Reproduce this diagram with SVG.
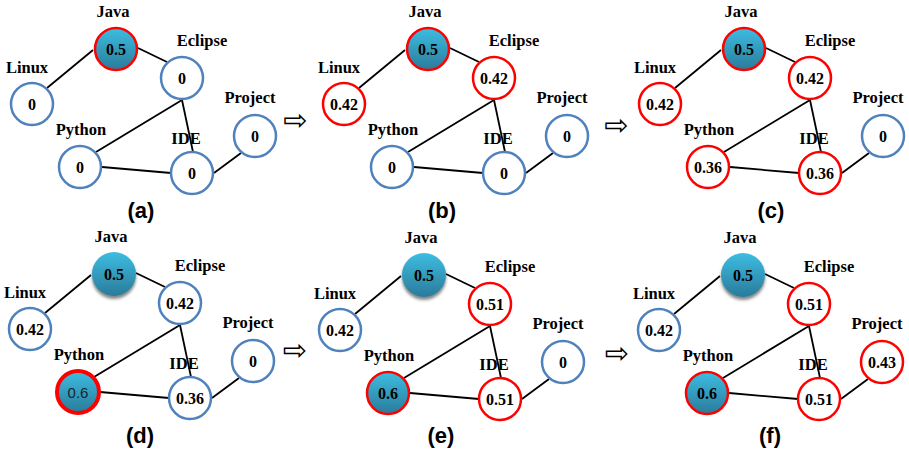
<svg xmlns="http://www.w3.org/2000/svg" width="909" height="450" viewBox="0 0 909 450">
<defs>
<linearGradient id="teal" x1="0" y1="0" x2="0" y2="1">
<stop offset="0" stop-color="#3dbde2"/>
<stop offset="1" stop-color="#2a7b9a"/>
</linearGradient>
<filter id="shadow" x="-40%" y="-40%" width="180%" height="190%">
<feDropShadow dx="0" dy="3" stdDeviation="1.5" flood-color="#333" flood-opacity="0.6"/>
</filter>
<g id="edges" stroke="#000" stroke-width="1.8" fill="none">
<line x1="47" y1="88" x2="93" y2="50"/>
<line x1="138" y1="48" x2="167" y2="62"/>
<line x1="182" y1="100" x2="96" y2="152"/>
<line x1="182" y1="100" x2="193" y2="152"/>
<line x1="102" y1="167" x2="171" y2="173"/>
<line x1="214" y1="173" x2="241" y2="153"/>
</g>
</defs>
<style>
.b{fill:#fff;stroke:#4f81bd;stroke-width:2.5}
.r{fill:#fff;stroke:#ff0000;stroke-width:2.5}
.t{fill:url(#teal);stroke:#ff0000;stroke-width:2.5}
.ts{fill:url(#teal);filter:url(#shadow)}
.tt{fill:url(#teal);stroke:#ff0000;stroke-width:4}
.lab{font-family:"Liberation Serif",serif;font-weight:bold;font-size:16.5px;text-anchor:middle}
.v{font-family:"Liberation Serif",serif;font-weight:bold;font-size:16px;text-anchor:middle}
.vr{font-family:"Liberation Sans",sans-serif;font-size:15px;text-anchor:middle;fill:#1a2430}
.cap{font-family:"Liberation Sans",Arial,sans-serif;font-weight:bold;font-size:22px;text-anchor:middle}
.arr{font-family:"DejaVu Sans",sans-serif;font-size:29px;text-anchor:middle}
</style>

<!-- Panel (a) -->
<g id="panel-a">
<g id="a-connectors"><use href="#edges"/></g>
<g id="a-java"><circle class="t" cx="116" cy="49" r="21"/><text class="v" x="116" y="54.5">0.5</text><text class="lab" x="113" y="17">Java</text></g>
<g id="a-eclipse"><circle class="b" cx="182" cy="78" r="21"/><text class="v" x="182" y="83.5">0</text><text class="lab" x="202" y="46">Eclipse</text></g>
<g id="a-linux"><circle class="b" cx="32" cy="104" r="21"/><text class="v" x="32" y="109.5">0</text><text class="lab" x="27" y="73">Linux</text></g>
<g id="a-python"><circle class="b" cx="80" cy="167" r="21"/><text class="v" x="80" y="172.5">0</text><text class="lab" x="81" y="135">Python</text></g>
<g id="a-ide"><circle class="b" cx="192" cy="173" r="21"/><text class="v" x="192" y="178.5">0</text><text class="lab" x="186" y="144">IDE</text></g>
<g id="a-project"><circle class="b" cx="255" cy="136" r="21"/><text class="v" x="255" y="141.5">0</text><text class="lab" x="250" y="103">Project</text></g>
<text class="cap" x="141" y="218">(a)</text>
</g>

<!-- Panel (b) -->
<g id="panel-b" transform="translate(312,0)">
<g id="b-connectors"><use href="#edges"/></g>
<g id="b-java"><circle class="t" cx="116" cy="49" r="21"/><text class="v" x="116" y="54.5">0.5</text><text class="lab" x="113" y="17">Java</text></g>
<g id="b-eclipse"><circle class="r" cx="182" cy="78" r="21"/><text class="v" x="182" y="83.5">0.42</text><text class="lab" x="202" y="46">Eclipse</text></g>
<g id="b-linux"><circle class="r" cx="32" cy="104" r="21"/><text class="v" x="32" y="109.5">0.42</text><text class="lab" x="27" y="73">Linux</text></g>
<g id="b-python"><circle class="b" cx="80" cy="167" r="21"/><text class="v" x="80" y="172.5">0</text><text class="lab" x="81" y="135">Python</text></g>
<g id="b-ide"><circle class="b" cx="192" cy="173" r="21"/><text class="v" x="192" y="178.5">0</text><text class="lab" x="186" y="144">IDE</text></g>
<g id="b-project"><circle class="b" cx="255" cy="136" r="21"/><text class="v" x="255" y="141.5">0</text><text class="lab" x="250" y="103">Project</text></g>
<text class="cap" x="130" y="218">(b)</text>
</g>

<!-- Panel (c) -->
<g id="panel-c" transform="translate(628,0)">
<g id="c-connectors"><use href="#edges"/></g>
<g id="c-java"><circle class="t" cx="116" cy="49" r="21"/><text class="v" x="116" y="54.5">0.5</text><text class="lab" x="113" y="17">Java</text></g>
<g id="c-eclipse"><circle class="r" cx="182" cy="78" r="21"/><text class="v" x="182" y="83.5">0.42</text><text class="lab" x="202" y="46">Eclipse</text></g>
<g id="c-linux"><circle class="r" cx="32" cy="104" r="21"/><text class="v" x="32" y="109.5">0.42</text><text class="lab" x="27" y="73">Linux</text></g>
<g id="c-python"><circle class="r" cx="80" cy="167" r="21"/><text class="v" x="80" y="172.5">0.36</text><text class="lab" x="81" y="135">Python</text></g>
<g id="c-ide"><circle class="r" cx="192" cy="173" r="21"/><text class="v" x="192" y="178.5">0.36</text><text class="lab" x="186" y="144">IDE</text></g>
<g id="c-project"><circle class="b" cx="255" cy="136" r="21"/><text class="v" x="255" y="141.5">0</text><text class="lab" x="250" y="103">Project</text></g>
<text class="cap" x="143" y="218">(c)</text>
</g>

<!-- Panel (d) -->
<g id="panel-d" transform="translate(-2,225)">
<g id="d-connectors"><use href="#edges"/></g>
<g id="d-java"><circle class="ts" cx="116" cy="49" r="22"/><text class="v" x="116" y="54.5">0.5</text><text class="lab" x="113" y="17">Java</text></g>
<g id="d-eclipse"><circle class="b" cx="182" cy="78" r="21"/><text class="v" x="182" y="83.5">0.42</text><text class="lab" x="202" y="46">Eclipse</text></g>
<g id="d-linux"><circle class="b" cx="32" cy="104" r="21"/><text class="v" x="32" y="109.5">0.42</text><text class="lab" x="27" y="73">Linux</text></g>
<g id="d-python"><circle class="tt" cx="80" cy="167" r="21"/><text class="vr" x="80" y="172.5">0.6</text><text class="lab" x="81" y="135">Python</text></g>
<g id="d-ide"><circle class="b" cx="192" cy="173" r="21"/><text class="v" x="192" y="178.5">0.36</text><text class="lab" x="186" y="144">IDE</text></g>
<g id="d-project"><circle class="b" cx="255" cy="136" r="21"/><text class="v" x="255" y="141.5">0</text><text class="lab" x="250" y="103">Project</text></g>
<text class="cap" x="142" y="218">(d)</text>
</g>

<!-- Panel (e) -->
<g id="panel-e" transform="translate(308,226)">
<g id="e-connectors"><use href="#edges"/></g>
<g id="e-java"><circle class="ts" cx="116" cy="49" r="22"/><text class="v" x="116" y="54.5">0.5</text><text class="lab" x="113" y="17">Java</text></g>
<g id="e-eclipse"><circle class="r" cx="182" cy="78" r="21"/><text class="v" x="182" y="83.5">0.51</text><text class="lab" x="202" y="46">Eclipse</text></g>
<g id="e-linux"><circle class="b" cx="32" cy="104" r="21"/><text class="v" x="32" y="109.5">0.42</text><text class="lab" x="27" y="73">Linux</text></g>
<g id="e-python"><circle class="t" cx="80" cy="167" r="21"/><text class="v" x="80" y="172.5">0.6</text><text class="lab" x="81" y="135">Python</text></g>
<g id="e-ide"><circle class="r" cx="192" cy="173" r="21"/><text class="v" x="192" y="178.5">0.51</text><text class="lab" x="186" y="144">IDE</text></g>
<g id="e-project"><circle class="b" cx="255" cy="136" r="21"/><text class="v" x="255" y="141.5">0</text><text class="lab" x="250" y="103">Project</text></g>
<text class="cap" x="133" y="217">(e)</text>
</g>

<!-- Panel (f) -->
<g id="panel-f" transform="translate(627,226)">
<g id="f-connectors"><use href="#edges"/></g>
<g id="f-java"><circle class="ts" cx="116" cy="49" r="22"/><text class="v" x="116" y="54.5">0.5</text><text class="lab" x="113" y="17">Java</text></g>
<g id="f-eclipse"><circle class="r" cx="182" cy="78" r="21"/><text class="v" x="182" y="83.5">0.51</text><text class="lab" x="202" y="46">Eclipse</text></g>
<g id="f-linux"><circle class="b" cx="32" cy="104" r="21"/><text class="v" x="32" y="109.5">0.42</text><text class="lab" x="27" y="73">Linux</text></g>
<g id="f-python"><circle class="t" cx="80" cy="167" r="21"/><text class="v" x="80" y="172.5">0.6</text><text class="lab" x="81" y="135">Python</text></g>
<g id="f-ide"><circle class="r" cx="192" cy="173" r="21"/><text class="v" x="192" y="178.5">0.51</text><text class="lab" x="186" y="144">IDE</text></g>
<g id="f-project"><circle class="r" cx="255" cy="136" r="21"/><text class="v" x="255" y="141.5">0.43</text><text class="lab" x="250" y="103">Project</text></g>
<text class="cap" x="143" y="217">(f)</text>
</g>

<!-- step arrows -->
<g id="arrows">
<text class="arr" x="295.5" y="129.5">⇨</text>
<text class="arr" x="616.5" y="134.5">⇨</text>
<text class="arr" x="295" y="359.5">⇨</text>
<text class="arr" x="617" y="362.5">⇨</text>
</g>
</svg>
